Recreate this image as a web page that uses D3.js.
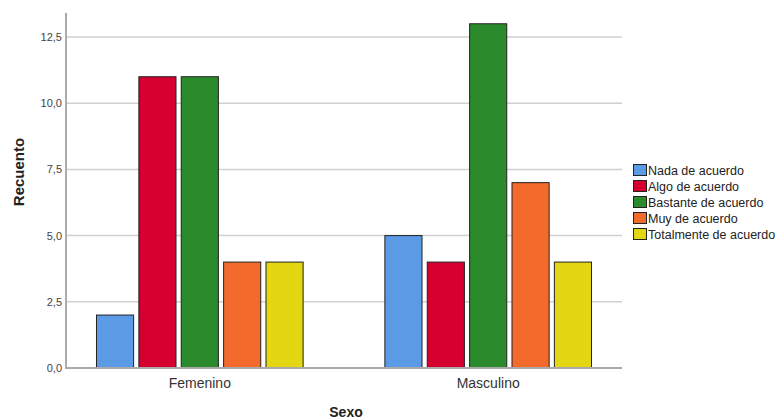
<!DOCTYPE html>
<html><head><meta charset="utf-8">
<script src="https://cdn.jsdelivr.net/npm/d3@7"></script>
<style>body{margin:0;background:#fff;} svg{display:block;font-family:"Liberation Sans",Arial,sans-serif;}</style>
</head><body>
<svg id="c" width="782" height="420"></svg>
<script>
const categories = ["Femenino", "Masculino"];
const seriesNames = ["Nada de acuerdo", "Algo de acuerdo", "Bastante de acuerdo", "Muy de acuerdo", "Totalmente de acuerdo"];
const valuesFemenino = [2, 11, 11, 4, 4];
const valuesMasculino = [5, 4, 13, 7, 4];
const colors = ["#5b9be6", "#d5002f", "#2b8a2b", "#f26b2c", "#e3d613"];
const yTicks = [0, 2.5, 5, 7.5, 10, 12.5];

const svg = d3.select("#c");
const L = 66, R = 622, T = 13, B = 368;
const y = d3.scaleLinear().domain([0, 12.5 * (B - T) / (B - 37)]).range([B, T]);
const x0 = d3.scaleBand().domain(categories).range([L, R]).paddingInner(0.28).paddingOuter(0.104);
const x1 = d3.scaleBand().domain(seriesNames).range([0, x0.bandwidth()]).paddingInner(0.1).paddingOuter(0);
const data = categories.map((c, i) => ({cat: c, vals: i === 0 ? valuesFemenino : valuesMasculino}));

// gridlines
svg.append("g").selectAll("line").data(yTicks.filter(d => d > 0)).join("line")
  .attr("x1", L).attr("x2", R).attr("y1", d => y(d)).attr("y2", d => y(d))
  .attr("stroke", "#d0d0d0").attr("stroke-width", 1.5);

// bars
const g = svg.append("g").selectAll("g").data(data).join("g")
  .attr("transform", d => `translate(${x0(d.cat)},0)`);
g.selectAll("rect").data(d => d.vals.map((v, i) => ({v, s: seriesNames[i], i}))).join("rect")
  .attr("x", d => x1(d.s) + 0.5).attr("width", x1.bandwidth() - 1)
  .attr("y", d => y(d.v)).attr("height", d => y(0) - y(d.v))
  .attr("fill", d => colors[d.i]).attr("stroke", "#222").attr("stroke-width", 1);

// y axis
const yAxis = d3.axisLeft(y).tickValues(yTicks).tickSize(0).tickPadding(4)
  .tickFormat(d => d3.format(".1f")(d).replace(".", ","));
const ya = svg.append("g").attr("transform", `translate(${L},0)`).call(yAxis);
ya.select(".domain").remove();
ya.selectAll("text").attr("font-size", 11).attr("fill", "#444").attr("font-family", "Liberation Sans, Arial, sans-serif");
svg.append("line").attr("x1", L).attr("x2", L).attr("y1", T).attr("y2", B + 1)
  .attr("stroke", "#aaa").attr("stroke-width", 2);
svg.append("line").attr("x1", L).attr("x2", R).attr("y1", B).attr("y2", B)
  .attr("stroke", "#aaa").attr("stroke-width", 2);

// x axis labels
const xAxis = d3.axisBottom(x0).tickSize(0).tickPadding(10);
const xa = svg.append("g").attr("transform", `translate(0,${B})`).call(xAxis);
xa.select(".domain").remove();
xa.selectAll("text").attr("font-size", 14).attr("fill", "#333").attr("font-family", "Liberation Sans, Arial, sans-serif");

// axis titles
svg.append("text").attr("x", 346).attr("y", 417).attr("text-anchor", "middle")
  .attr("font-size", 14).attr("font-weight", "bold").attr("fill", "#222").text("Sexo");
svg.append("text").attr("transform", "translate(24,172) rotate(-90)").attr("text-anchor", "middle")
  .attr("font-size", 15).attr("font-weight", "bold").attr("fill", "#222").text("Recuento");

// legend
const lg = svg.append("g").attr("transform", "translate(633,164)");
const li = lg.selectAll("g").data(seriesNames).join("g").attr("transform", (d, i) => `translate(0,${i * 16})`);
li.append("rect").attr("x", 0.5).attr("y", 0.5).attr("width", 13).attr("height", 11).attr("fill", (d, i) => colors[i]).attr("stroke", "#222");
li.append("text").attr("x", 15).attr("y", 10.5).attr("font-size", 12.5).attr("fill", "#222").text(d => d);
</script>
</body></html>
